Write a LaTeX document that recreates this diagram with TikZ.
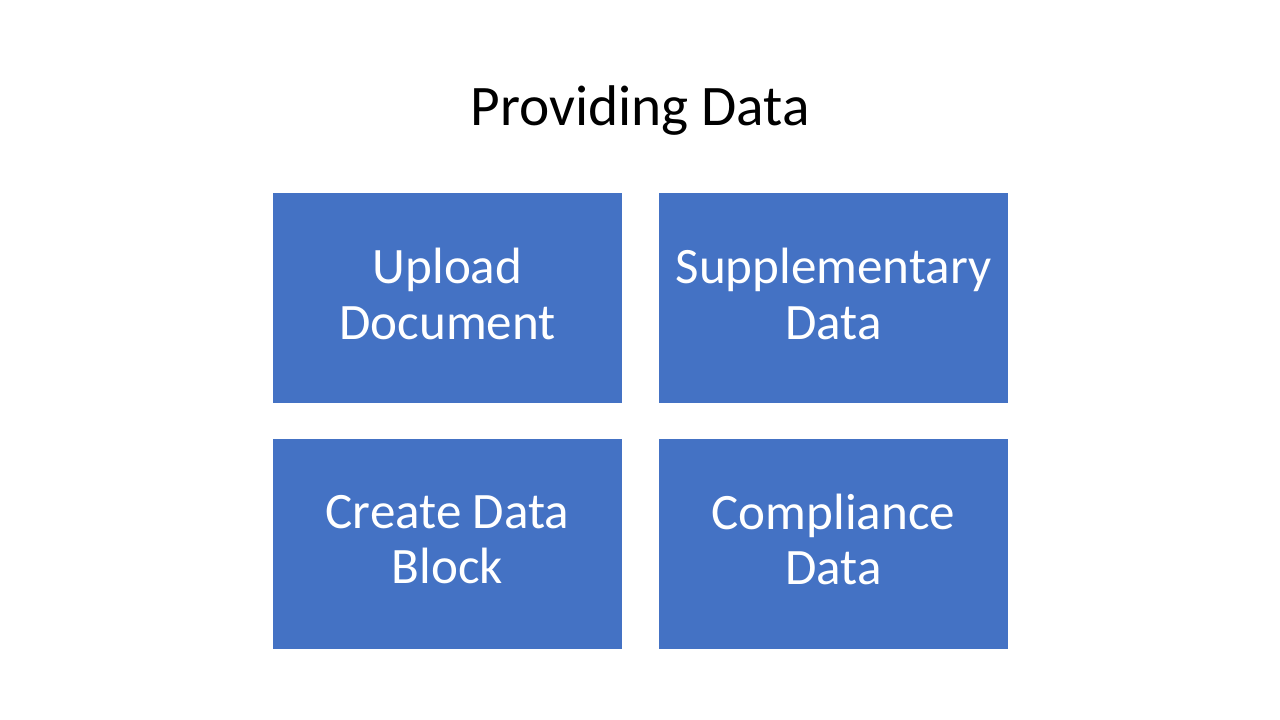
\documentclass[tikz,border=0pt]{standalone}
\usepackage{fontspec}
\setmainfont{Carlito}
\definecolor{boxblue}{HTML}{4472C4}
\begin{document}
\begin{tikzpicture}[x=0.75pt,y=-0.75pt,
  tile/.style={fill=boxblue,draw=none,minimum width=349*0.75pt,minimum height=210*0.75pt,
    text=white,align=center,inner sep=0pt},
  tiletext/.style={text=white,align=center,inner sep=0pt,font=\fontsize{38.3}{41.5}\selectfont},
  titletext/.style={font=\fontsize{43}{52}\selectfont,inner sep=0pt}]
\useasboundingbox (0,0) rectangle (1280,720);
\node[titletext] (title) at (640,111) {Providing Data};
\node[tile] (upload) at (447.5,298) {};
\node[tile] (supp) at (833.5,298) {};
\node[tile] (create) at (447.5,543.5) {};
\node[tile] (comp) at (833.5,543.5) {};
\node[tiletext] (uploadt) at ([yshift=3pt]upload.center) {Upload\\Document};
\node[tiletext] (suppt) at ([yshift=3pt]supp.center) {Supplementary\\Data};
\node[tiletext] (createt) at ([yshift=3pt]create.center) {Create Data\\Block};
\node[tiletext] (compt) at ([yshift=3pt]comp.center) {Compliance\\Data};
\end{tikzpicture}
\end{document}
